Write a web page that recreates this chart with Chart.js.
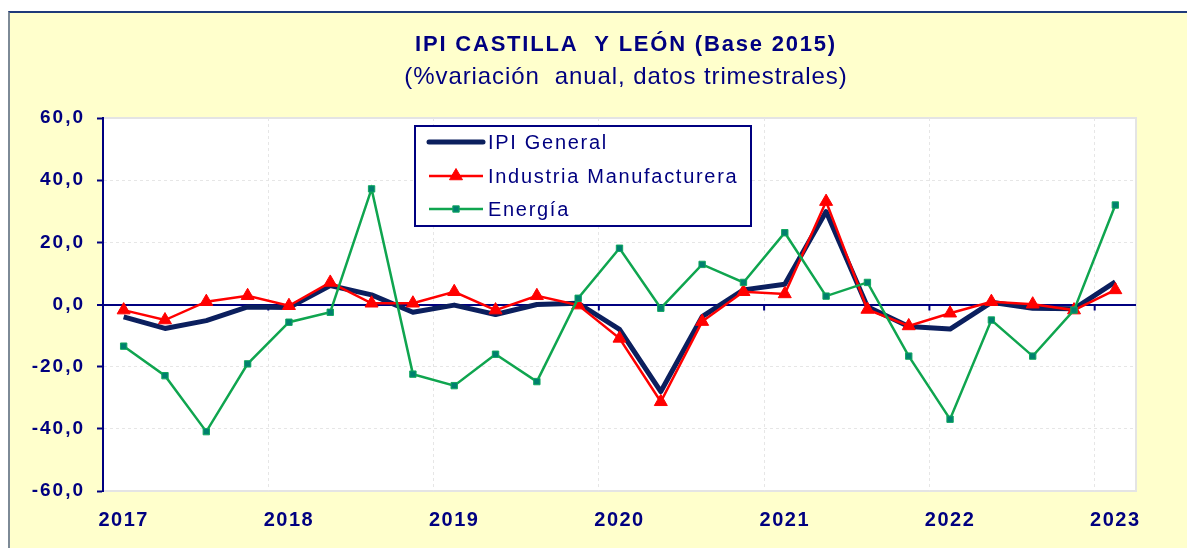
<!DOCTYPE html>
<html>
<head>
<meta charset="utf-8">
<script src="https://cdn.jsdelivr.net/npm/chart.js@4.4.1/dist/chart.umd.min.js"></script>
<style>
  html, body { margin: 0; padding: 0; background: #ffffff; }
  #wrap { position: relative; width: 1187px; height: 548px; overflow: hidden; }
  #frame { position: absolute; left: 8px; top: 11px; width: 1200px; height: 560px;
           background: #ffffcc; border-top: 2px solid #1f3a7a; border-left: 2px solid #7d8a96; }
  #c { position: absolute; left: 0; top: 0; }
</style>
</head>
<body>
<div id="wrap">
  <div id="frame"></div>
  <canvas id="c" width="1187" height="548"></canvas>
</div>
<script>
// ---- data (% annual variation, quarterly) ----
const categories = [
  '2017 T1','2017 T2','2017 T3','2017 T4',
  '2018 T1','2018 T2','2018 T3','2018 T4',
  '2019 T1','2019 T2','2019 T3','2019 T4',
  '2020 T1','2020 T2','2020 T3','2020 T4',
  '2021 T1','2021 T2','2021 T3','2021 T4',
  '2022 T1','2022 T2','2022 T3','2022 T4',
  '2023 T1'
];
const yearLabels = ['2017','2018','2019','2020','2021','2022','2023'];
const ipiGeneral = [-4.0, -7.7, -5.2, -0.8, -1.0, 6.1, 3.1, -2.5, -0.2, -3.2, 0.0, 0.4,
                    -8.0, -28.0, -3.9, 4.7, 6.5, 29.9, -0.7, -7.1, -7.9, 0.7, -1.2, -1.4, 7.3];
const industriaManufacturera = [-1.8, -5.0, 0.9, 2.8, -0.4, 7.1, 0.4, 0.4, 4.1, -1.8, 2.8, -0.2,
                    -10.9, -31.3, -5.5, 4.1, 3.4, 33.1, -1.6, -6.9, -2.8, 0.9, 0.1, -1.8, 4.7];
const energia = [-13.4, -22.9, -40.9, -19.1, -5.7, -2.5, 37.2, -22.4, -26.1, -16.0, -24.8, 2.0,
                    18.1, -1.2, 12.9, 7.1, 23.1, 2.7, 7.1, -16.6, -36.9, -5.0, -16.6, -1.8, 32.0];
const seriesNames = ['IPI General', 'Industria Manufacturera', 'Energía'];
const titleText = 'IPI CASTILLA  Y LEÓN (Base 2015)';
const subtitleText = '(%variación  anual, datos trimestrales)';

const NAVY = '#000080';
const LINE_NAVY = '#0b1f5e';
const FONT = "'Liberation Sans', Arial, sans-serif";

function withSpacing(obj, method, spacing) {
  if (!obj || obj['__sp_' + method]) return;
  const orig = obj[method];
  obj[method] = function () {
    const ctx = this.ctx;
    const prev = ctx.letterSpacing;
    ctx.letterSpacing = spacing;
    try { return orig.apply(this, arguments); } finally { ctx.letterSpacing = prev || '0px'; }
  };
  obj['__sp_' + method] = true;
}

const plotDeco = {
  id: 'plotDeco',
  afterLayout(chart) {
    // centre the title/subtitle like the reference, and widen their lettering
    const target = 626;
    chart.boxes.forEach(b => {
      if (b && b.options && typeof b.options.text !== 'undefined' && !b.axis) {
        const c = (b.left + b.right) / 2;
        const d = target - c;
        b.left += d; b.right += d;
        const bold = b.options.font && b.options.font.weight === 'bold';
        withSpacing(b, 'draw', bold ? '1.8px' : '0.9px');
      }
    });
    withSpacing(chart.scales.y, 'drawLabels', '2px');
    withSpacing(chart.scales.x, 'drawLabels', '1.5px');
  },
  beforeDraw(chart) {
    const {ctx, chartArea: a} = chart;
    ctx.save();
    ctx.fillStyle = '#ffffff';
    ctx.fillRect(a.left, a.top, a.right - a.left, a.bottom - a.top);
    ctx.strokeStyle = '#e4e4e4';
    ctx.lineWidth = 2;
    ctx.strokeRect(a.left, a.top, a.right - a.left, a.bottom - a.top);
    ctx.restore();
  },
  beforeDatasetsDraw(chart) {
    const {ctx, scales: {x, y}} = chart;
    const y0 = y.getPixelForValue(0);
    ctx.save();
    ctx.strokeStyle = NAVY;
    ctx.lineWidth = 2;
    for (let i = 4; i < categories.length; i += 4) {
      const px = (x.getPixelForValue(i) + x.getPixelForValue(i - 1)) / 2;
      ctx.beginPath();
      ctx.moveTo(px, y0);
      ctx.lineTo(px, y0 + 6);
      ctx.stroke();
    }
    ctx.restore();
  },
  afterDraw(chart) {
    const {ctx, chartArea: a} = chart;
    const bx = a.left + 312, by = a.top + 8, bw = 336, bh = 100;
    ctx.save();
    ctx.fillStyle = '#ffffff';
    ctx.fillRect(bx, by, bw, bh);
    ctx.strokeStyle = NAVY;
    ctx.lineWidth = 2;
    ctx.strokeRect(bx, by, bw, bh);
    const rows = [by + 16, by + 50, by + 83];
    const x1 = bx + 14, x2 = bx + 68, xm = (x1 + x2) / 2;
    chart.data.datasets.forEach((ds, i) => {
      const yy = rows[i];
      ctx.beginPath();
      ctx.strokeStyle = ds.borderColor;
      ctx.lineWidth = ds.borderWidth;
      ctx.lineCap = i === 0 ? 'round' : 'butt';
      ctx.moveTo(x1, yy); ctx.lineTo(x2, yy);
      ctx.stroke();
      if (ds.pointRadius > 0) {
        ctx.fillStyle = ds.pointBackgroundColor;
        ctx.strokeStyle = ds.pointBorderColor;
        ctx.lineWidth = ds.pointBorderWidth;
        Chart.helpers.drawPoint(ctx, {
          pointStyle: ds.pointStyle, radius: ds.pointRadius, rotation: 0,
          borderWidth: ds.pointBorderWidth
        }, xm, yy);
      }
      ctx.fillStyle = NAVY;
      ctx.font = '20px ' + FONT;
      ctx.letterSpacing = '1.7px';
      ctx.textBaseline = 'middle';
      ctx.textAlign = 'left';
      ctx.fillText(ds.label, bx + 73, yy + 1);
      ctx.letterSpacing = '0px';
    });
    ctx.restore();
  }
};

new Chart(document.getElementById('c'), {
  type: 'line',
  data: {
    labels: categories,
    datasets: [
      {
        label: seriesNames[0], data: ipiGeneral, borderColor: LINE_NAVY, borderWidth: 5,
        pointRadius: 0, pointHoverRadius: 0, tension: 0, order: 3, borderJoinStyle: 'round'
      },
      {
        label: seriesNames[1], data: industriaManufacturera, borderColor: '#ff0000', borderWidth: 2.5,
        pointStyle: 'triangle', pointRadius: 7.5, pointBackgroundColor: '#ff0000',
        pointBorderColor: '#ff0000', pointBorderWidth: 1, tension: 0, order: 2
      },
      {
        label: seriesNames[2], data: energia, borderColor: '#0fa54f', borderWidth: 2.5,
        pointStyle: 'rect', pointRadius: 4.5, pointBackgroundColor: '#00806e',
        pointBorderColor: '#10a860', pointBorderWidth: 1, tension: 0, order: 1
      }
    ]
  },
  options: {
    responsive: false,
    animation: false,
    events: [],
    layout: { padding: { left: 0, right: 51, top: 32, bottom: 0 } },
    plugins: {
      legend: { display: false },
      tooltip: { enabled: false },
      title: {
        display: true, text: titleText, color: NAVY,
        font: { family: FONT, size: 22, weight: 'bold', lineHeight: 1.2 },
        padding: { top: 0, bottom: 4.7 }
      },
      subtitle: {
        display: true, text: subtitleText, color: NAVY,
        font: { family: FONT, size: 24, weight: 'normal', lineHeight: 1.2 },
        padding: { top: 0, bottom: 26.1 }
      }
    },
    scales: {
      x: {
        type: 'category',
        offset: true,
        afterFit(scale) { scale.height = 57; },
        grid: {
          offset: true,
          drawTicks: false,
          lineWidth: 1,
          color: (ctx) => (ctx.index % 4 === 0 && ctx.index > 0) ? '#e6e6e6' : 'rgba(0,0,0,0)'
        },
        border: { display: false, dash: [3, 3] },
        ticks: {
          autoSkip: false, maxRotation: 0, minRotation: 0, padding: 17,
          color: NAVY,
          font: { family: FONT, size: 20, weight: 'bold' },
          callback: (v, i) => (i % 4 === 0 ? yearLabels[i / 4] : '')
        }
      },
      y: {
        min: -60, max: 60,
        afterFit(scale) { scale.width = 103; },
        grid: {
          color: (ctx) => {
            if (!ctx.tick) return '#e6e6e6';
            if (ctx.tick.value === 0) return NAVY;
            if (ctx.tick.value === 60 || ctx.tick.value === -60) return 'rgba(0,0,0,0)';
            return '#e6e6e6';
          },
          lineWidth: (ctx) => (ctx.tick && ctx.tick.value === 0 ? 2 : 1),
          tickColor: NAVY, tickLength: 6, tickWidth: 2
        },
        border: {
          display: true, color: NAVY, width: 2,
          dash: (ctx) => (ctx.tick && ctx.tick.value !== 0 ? [3, 3] : [])
        },
        ticks: {
          stepSize: 20, padding: 12, color: NAVY,
          font: { family: FONT, size: 19, weight: 'bold' },
          callback: (v) => Number(v).toFixed(1).replace('.', ',')
        }
      }
    }
  },
  plugins: [plotDeco]
});
</script>
</body>
</html>
